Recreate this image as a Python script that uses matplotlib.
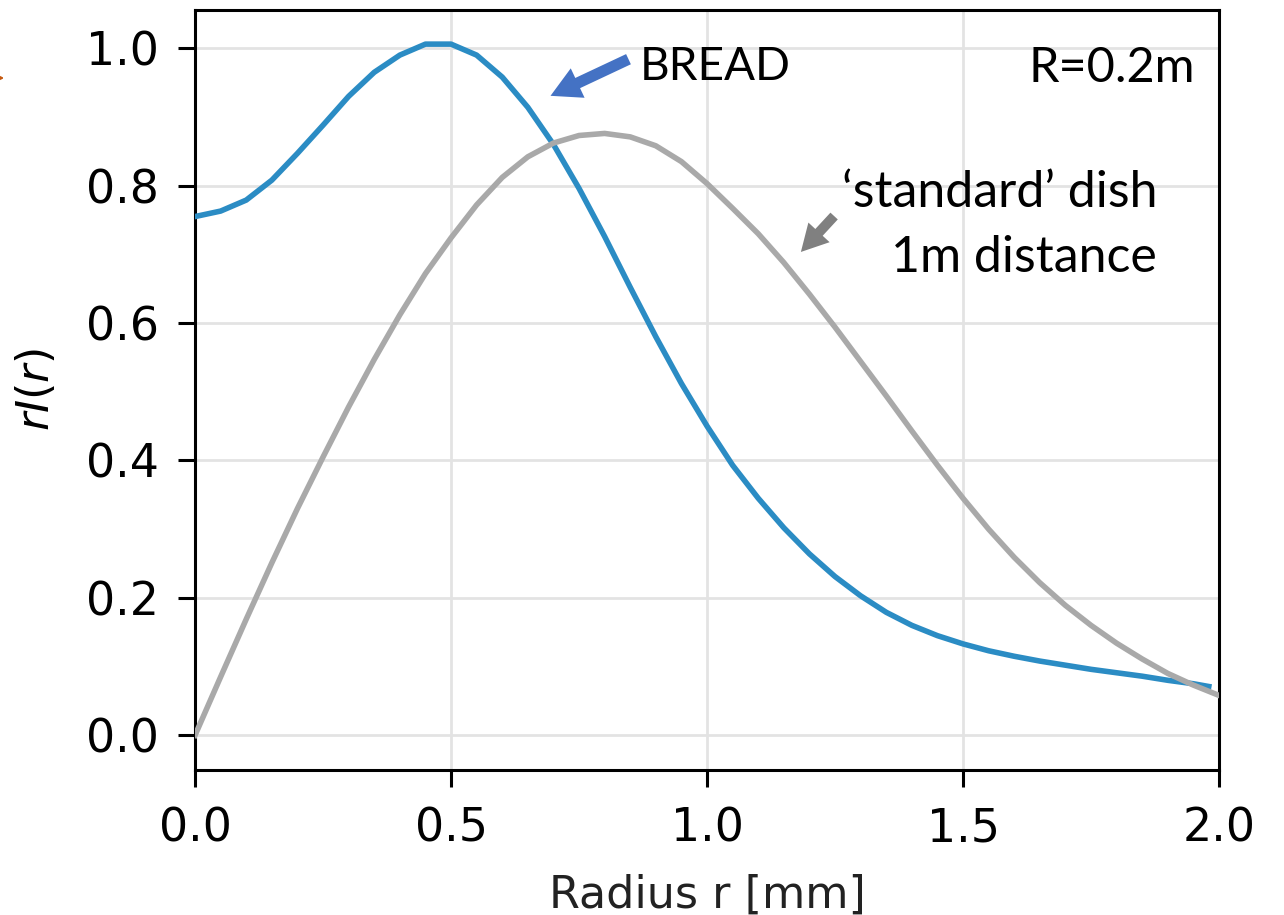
import matplotlib
matplotlib.use("Agg")
import matplotlib.pyplot as plt

# radius values (mm) and rI(r)
bread_r = [0.0, 0.05, 0.1, 0.15, 0.2, 0.25, 0.3, 0.35, 0.4, 0.45,
           0.5, 0.55, 0.6, 0.65, 0.7, 0.75, 0.8, 0.85, 0.9, 0.95,
           1.0, 1.05, 1.1, 1.15, 1.2, 1.25, 1.3, 1.35, 1.4, 1.45,
           1.5, 1.55, 1.6, 1.65, 1.7, 1.75, 1.8, 1.85, 1.9, 1.95, 1.98]
bread_I = [0.755, 0.763, 0.779, 0.808, 0.847, 0.888, 0.930, 0.965, 0.990, 1.006,
           1.006, 0.990, 0.958, 0.914, 0.860, 0.796, 0.726, 0.652, 0.580, 0.512,
           0.450, 0.393, 0.345, 0.302, 0.264, 0.231, 0.203, 0.179, 0.160, 0.145,
           0.133, 0.123, 0.115, 0.108, 0.102, 0.096, 0.091, 0.086, 0.080, 0.075, 0.071]

dish_r = [0.0, 0.05, 0.1, 0.15, 0.2, 0.25, 0.3, 0.35, 0.4, 0.45,
          0.5, 0.55, 0.6, 0.65, 0.7, 0.75, 0.8, 0.85, 0.9, 0.95,
          1.0, 1.05, 1.1, 1.15, 1.2, 1.25, 1.3, 1.35, 1.4, 1.45,
          1.5, 1.55, 1.6, 1.65, 1.7, 1.75, 1.8, 1.85, 1.9, 1.95, 2.0]
dish_I = [0.0, 0.085, 0.169, 0.251, 0.330, 0.405, 0.478, 0.547, 0.612, 0.672,
          0.724, 0.772, 0.812, 0.842, 0.862, 0.873, 0.876, 0.871, 0.858, 0.835,
          0.803, 0.767, 0.730, 0.688, 0.642, 0.594, 0.544, 0.494, 0.443, 0.393,
          0.345, 0.300, 0.259, 0.222, 0.189, 0.160, 0.134, 0.111, 0.090, 0.073, 0.058]

xticks = [0.0, 0.5, 1.0, 1.5, 2.0]
yticks = [0.0, 0.2, 0.4, 0.6, 0.8, 1.0]

fig = plt.figure(figsize=(12.84, 9.15), dpi=100)
ax = fig.add_axes([0.1519, 0.1585, 0.7975, 0.8306])

ax.plot(bread_r, bread_I, color="#2b8cc4", lw=4.0, zorder=3, solid_joinstyle="round")
ax.plot(dish_r, dish_I, color="#a9a9a9", lw=4.0, zorder=4, solid_joinstyle="round")

ax.set_xlim(0, 2.0)
ax.set_ylim(-0.0505, 1.0557)
ax.set_xticks(xticks)
ax.set_yticks(yticks)
ax.grid(color="#e3e3e3", lw=2)
ax.set_axisbelow(True)

for s in ax.spines.values():
    s.set_linewidth(2.2)
ax.tick_params(labelsize=33, length=12, width=2.2, pad=14)

ax.set_xlabel("Radius r [mm]", fontsize=32, labelpad=16, color="#222222")
ax.set_ylabel("$rI(r)$", fontsize=32, labelpad=20)

# annotations (slide style text)
txt = dict(family=["Lato", "DejaVu Sans"], color="black")
fig.text(640 / 1284, 1 - 80 / 915, "BREAD", ha="left", va="baseline", fontsize=33, **txt)
fig.text(1195 / 1284, 1 - 82 / 915, "R=0.2m", ha="right", va="baseline", fontsize=35, **txt)
fig.text(1157 / 1284, 1 - 207 / 915, "\u2018standard\u2019 dish", ha="right", va="baseline", fontsize=36, **txt)
fig.text(1157 / 1284, 1 - 272 / 915, "1m distance", ha="right", va="baseline", fontsize=36, **txt)

ax.annotate("", xy=(548, 915 - 97), xytext=(631, 915 - 58),
            xycoords="figure pixels", textcoords="figure pixels",
            arrowprops=dict(arrowstyle="simple,head_width=1.3,head_length=1.2,tail_width=0.45",
                            color="#4472c4", lw=0, mutation_scale=18))
ax.annotate("", xy=(799, 915 - 254), xytext=(836, 915 - 214),
            xycoords="figure pixels", textcoords="figure pixels",
            arrowprops=dict(arrowstyle="simple,head_width=1.3,head_length=1.2,tail_width=0.45",
                            color="#808080", lw=0, mutation_scale=16))

# small orange arrow tip cut off at the left edge
ax.annotate("", xy=(7, 915 - 78), xytext=(-10, 915 - 78),
            xycoords="figure pixels", textcoords="figure pixels",
            arrowprops=dict(arrowstyle="-|>,head_width=0.25,head_length=0.5",
                            color="#c55a11", lw=1.5, mutation_scale=10),
            annotation_clip=False)

fig.savefig("out.png", dpi=100)
